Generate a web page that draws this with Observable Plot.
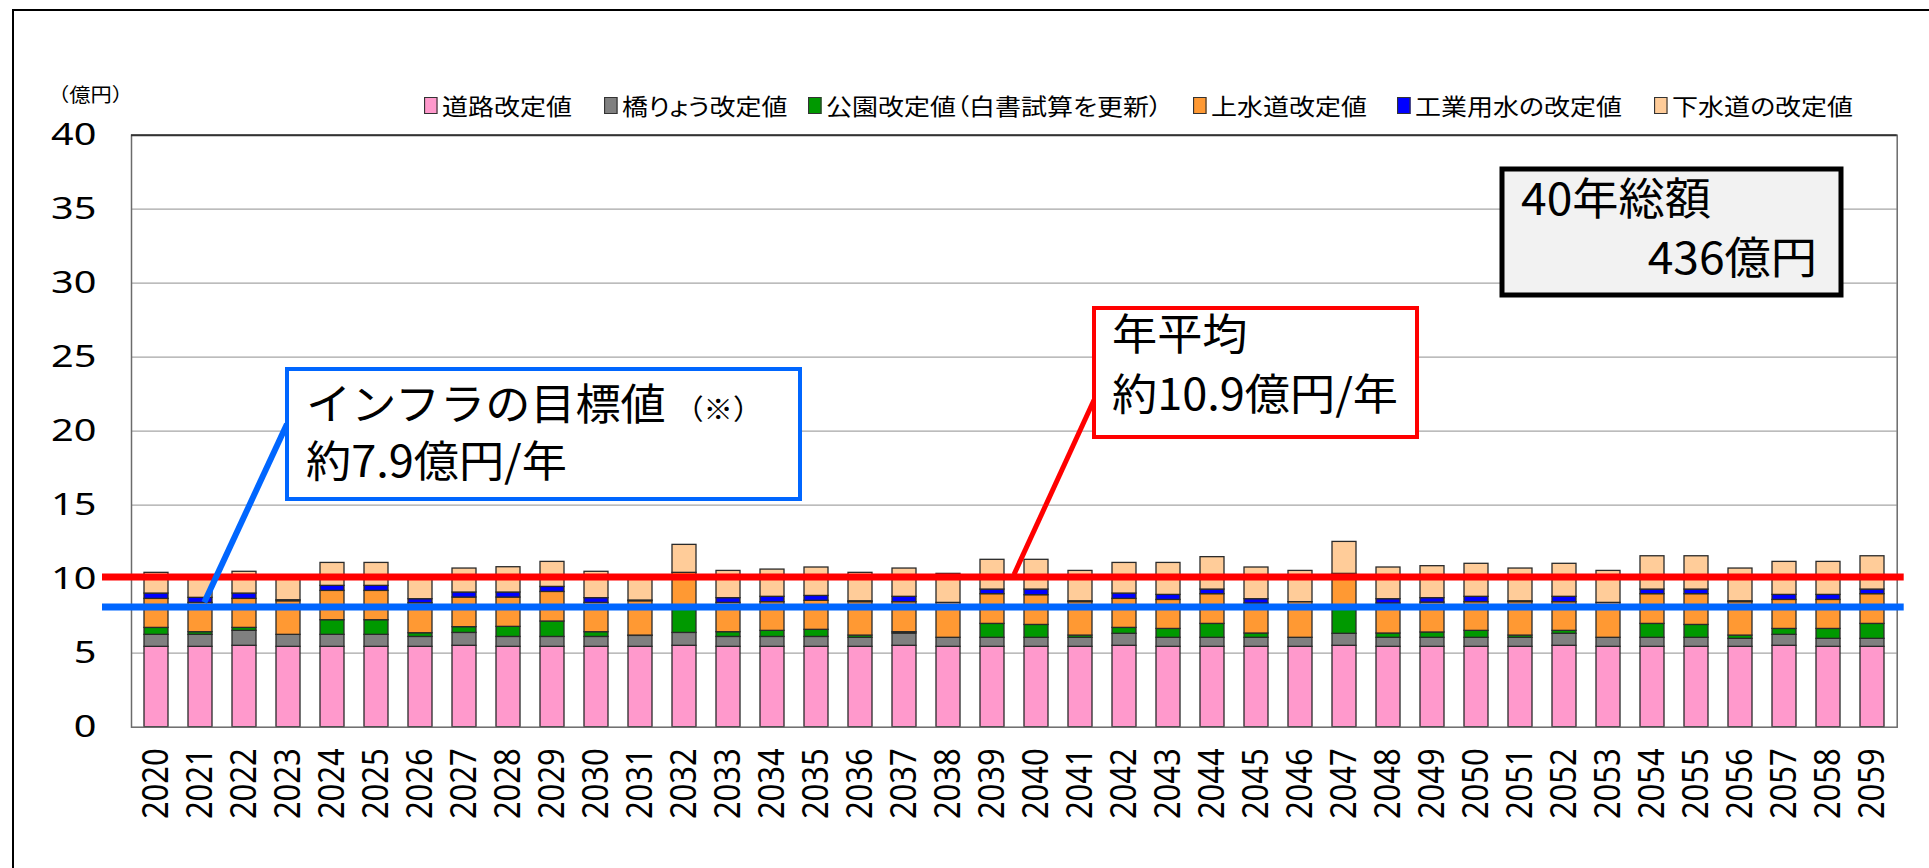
<!DOCTYPE html>
<html><head><meta charset="utf-8">
<script src="https://cdn.jsdelivr.net/npm/d3@7"></script>
<script src="https://cdn.jsdelivr.net/npm/@observablehq/plot@0.6"></script>
<style>
html,body{margin:0;padding:0;background:#fff;overflow:hidden;}
#wrap{position:relative;width:1929px;height:868px;overflow:hidden;background:#fff;font-family:"Noto Sans CJK JP","Noto Sans",sans-serif;}
#wrap svg{position:absolute;left:0;top:0;}
#outer{position:absolute;left:12px;top:9px;width:2000px;height:1000px;border-left:2px solid #000;border-top:2px solid #000;}
#unit{position:absolute;left:48px;top:80px;font-size:19px;color:#000;white-space:nowrap;transform:scaleX(1.12);transform-origin:left center;}
.leg{position:absolute;top:90px;height:30px;display:flex;align-items:center;font-size:23px;white-space:nowrap;color:#000;transform:scaleX(1.13);transform-origin:left center;font-feature-settings:"palt";}
.leg i{display:inline-block;width:10px;height:15px;border:1px solid #333;margin-right:4px;}
</style></head><body><div id="wrap"><div id="outer"></div><div id="unit">（億円）</div></div>
<script>
const years = ["2020","2021","2022","2023","2024","2025","2026","2027","2028","2029",
  "2030","2031","2032","2033","2034","2035","2036","2037","2038","2039",
  "2040","2041","2042","2043","2044","2045","2046","2047","2048","2049",
  "2050","2051","2052","2053","2054","2055","2056","2057","2058","2059"];
const seriesNames = ["道路改定値","橋りょう改定値","公園改定値（白書試算を更新）","上水道改定値","工業用水の改定値","下水道の改定値"];
const seriesColors = ["#ff99cc","#808080","#009900","#ff9933","#0000ff","#ffcc99"];
const road = [5.43,5.43,5.50,5.43,5.43,5.43,5.43,5.50,5.43,5.43,
  5.43,5.43,5.50,5.43,5.43,5.43,5.43,5.50,5.43,5.43,
  5.43,5.43,5.50,5.43,5.43,5.43,5.43,5.50,5.43,5.43,
  5.43,5.43,5.50,5.43,5.43,5.43,5.43,5.50,5.43,5.43];
const bridge = [0.81,0.81,1.01,0.81,0.81,0.81,0.67,0.87,0.67,0.67,
  0.67,0.74,0.87,0.67,0.67,0.67,0.61,0.83,0.61,0.61,
  0.61,0.61,0.81,0.61,0.61,0.61,0.61,0.81,0.61,0.61,
  0.61,0.61,0.81,0.61,0.61,0.61,0.54,0.74,0.54,0.54];
const park = [0.47,0.18,0.20,0.00,0.99,0.99,0.25,0.39,0.68,1.04,
  0.32,0.02,1.56,0.32,0.41,0.48,0.15,0.09,0.00,0.94,
  0.87,0.15,0.40,0.60,0.94,0.29,0.00,1.62,0.29,0.36,
  0.47,0.15,0.20,0.00,0.94,0.87,0.22,0.40,0.67,1.01];
const water = [1.96,1.98,1.96,2.27,1.98,1.98,2.03,2.00,1.98,2.00,
  1.98,2.32,2.50,1.98,1.94,1.96,2.26,2.03,2.36,2.01,
  2.01,2.26,1.96,1.96,2.01,2.03,2.41,2.43,2.03,2.02,
  1.94,2.26,1.94,2.36,2.01,2.08,2.26,1.96,1.96,2.01];
const industrial = [0.36,0.34,0.36,0.07,0.34,0.34,0.27,0.34,0.34,0.34,
  0.32,0.05,0.00,0.32,0.36,0.33,0.06,0.36,0.00,0.31,
  0.38,0.06,0.36,0.34,0.31,0.29,0.00,0.00,0.29,0.30,
  0.36,0.06,0.36,0.00,0.31,0.31,0.06,0.34,0.34,0.31];
const sewer = [1.40,1.46,1.47,1.62,1.55,1.55,1.55,1.62,1.71,1.69,
  1.78,1.64,1.89,1.84,1.84,1.92,1.92,1.91,1.96,2.01,
  2.01,2.05,2.07,2.16,2.19,2.14,2.11,2.16,2.14,2.16,
  2.23,2.21,2.23,2.16,2.25,2.25,2.21,2.23,2.23,2.25];
const yTicks = [0,5,10,15,20,25,30,35,40];
const gridTicks = [5,10,15,20,25,30,35];
const averageLine = 10.15;   // 年平均 line as drawn
const targetLine = 8.13;     // インフラの目標値 line as drawn

const seriesValues = [road, bridge, park, water, industrial, sewer];
const rows = [];
years.forEach((yr, i) => seriesNames.forEach((s, k) => {
  const v = seriesValues[k][i];
  if (v > 0) rows.push({year: yr, series: s, value: v});
}));

const chart = Plot.plot({
  width: 1929, height: 868,
  marginLeft: 131, marginRight: 32.3, marginTop: 134.7, marginBottom: 141.3,
  style: {fontFamily: "'Noto Sans', sans-serif", fontSize: "31px", color: "#000", background: "transparent", overflow: "visible"},
  x: {domain: years, paddingInner: 0.455, paddingOuter: 0.2275, label: null, tickSize: 0, tickRotate: -90, tickPadding: 21},
  y: {domain: [0, 40], ticks: yTicks, label: null, tickSize: 0, tickPadding: 35},
  color: {domain: seriesNames, range: seriesColors},
  marks: [
    Plot.ruleY(gridTicks, {stroke: "#a6a6a6", strokeWidth: 1.2}),
    Plot.barY(rows, {x: "year", y: "value", fill: "series", stroke: "#2a2a2a", strokeWidth: 1.3}),
    Plot.frame({stroke: "#6b6b6b", strokeWidth: 1.5}),
    Plot.ruleY([40], {stroke: "#333", strokeWidth: 2}),
    Plot.ruleY([averageLine], {stroke: "#ff0000", strokeWidth: 7, insetLeft: -29, insetRight: -7}),
    Plot.ruleY([targetLine], {stroke: "#0066ff", strokeWidth: 7, insetLeft: -29, insetRight: -7})
  ]
});
const wrap = document.getElementById("wrap");
wrap.appendChild(chart);

// widen the tick label glyphs like the reference (stretched around each label's anchor)
function stretch(sel, sx, sy) {
  d3.select(chart).selectAll(sel).each(function() {
    const t = d3.select(this);
    const tr = t.attr("transform");
    if (tr) t.attr("transform", tr + ` scale(${sx},${sy})`);
    else {
      const x = +t.attr("x") || 0, y = +t.attr("y") || 0;
      t.attr("transform", `translate(${x},${y}) scale(${sx},${sy}) translate(${-x},${-y})`);
    }
  });
}
stretch('g[aria-label="y-axis tick label"] text', 1.28, 1);
stretch('g[aria-label="x-axis tick label"] text', 1, 1.2);

// legend
const legX = [424, 604, 808, 1193, 1397, 1654];
seriesNames.forEach((s, k) => {
  const d = document.createElement("div");
  d.className = "leg";
  d.style.left = legX[k] + "px";
  d.innerHTML = `<i style="background:${seriesColors[k]}"></i>${s}`;
  wrap.appendChild(d);
});

// annotations overlay, anchored through the chart's own scales
const xs = chart.scale("x"), ys = chart.scale("y");
const gap = xs.step - xs.bandwidth;
const svg = d3.select(wrap).append("svg").attr("width", 1929).attr("height", 868)
  .style("font-family", "'Noto Sans CJK JP', sans-serif").style("pointer-events", "none");

// connectors
svg.append("line").attr("x1", 287).attr("y1", 424)
  .attr("x2", xs.apply("2021") + xs.bandwidth * 0.68).attr("y2", ys.apply(targetLine) - 4)
  .attr("stroke", "#0066ff").attr("stroke-width", 6);
svg.append("line").attr("x1", 1094).attr("y1", 400)
  .attr("x2", xs.apply("2040") - gap / 2).attr("y2", ys.apply(averageLine) - 2)
  .attr("stroke", "#ff0000").attr("stroke-width", 5);

function label(x, y, size, text, anchor) {
  const t = svg.append("text").attr("font-size", size)
    .attr("transform", `translate(${x},${y}) scale(1.05,1)`).attr("text-anchor", anchor || "start");
  if (typeof text === "string") t.text(text);
  return t;
}

// blue box
svg.append("rect").attr("x", 287).attr("y", 369).attr("width", 513).attr("height", 130)
  .attr("fill", "#fff").attr("stroke", "#0066ff").attr("stroke-width", 4);
const t1 = label(306, 420, 43, null);
t1.append("tspan").text("インフラの目標値");
t1.append("tspan").attr("font-size", 28).attr("dx", 8).text("（※）");
label(306, 477, 43, "約7.9億円/年");

// red box
svg.append("rect").attr("x", 1094).attr("y", 308).attr("width", 323).attr("height", 129)
  .attr("fill", "#fff").attr("stroke", "#ff0000").attr("stroke-width", 4);
label(1112, 350, 43, "年平均");
label(1112, 410, 43, "約10.9億円/年");

// total box
svg.append("rect").attr("x", 1502).attr("y", 169).attr("width", 339).attr("height", 126)
  .attr("fill", "#f2f2f2").attr("stroke", "#000").attr("stroke-width", 5);
label(1521, 215, 44, "40年総額");
label(1817, 274, 44, "436億円", "end");
</script>
</body></html>
